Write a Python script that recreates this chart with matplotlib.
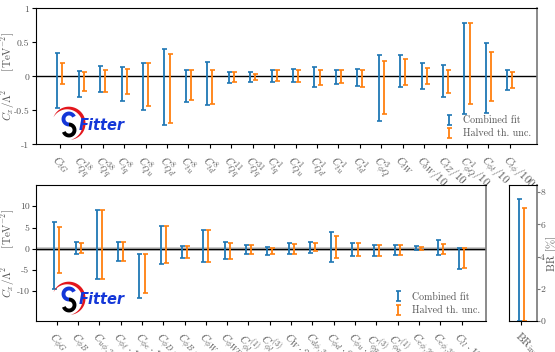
import numpy as np
import matplotlib
matplotlib.use('Agg')
import matplotlib.pyplot as plt

plt.rcParams['font.family'] = ['cmr10', 'DejaVu Serif']
plt.rcParams['mathtext.fontset'] = 'cm'
plt.rcParams['axes.unicode_minus'] = False
plt.rcParams['axes.formatter.use_mathtext'] = True

# ---- data ----
top_labels = [r"$C_{tG}$", r"$C_{Qq}^{18}$", r"$C_{Qq}^{38}$", r"$C_{tq}^{8}$", r"$C_{Qu}^{8}$",
              r"$C_{Qd}^{8}$", r"$C_{tu}^{8}$", r"$C_{td}^{8}$", r"$C_{Qq}^{11}$", r"$C_{Qq}^{31}$",
              r"$C_{tq}^{1}$", r"$C_{Qu}^{1}$", r"$C_{Qd}^{1}$", r"$C_{tu}^{1}$", r"$C_{td}^{1}$",
              r"$C_{\phi Q}^{3}$", r"$C_{tW}$", r"$C_{bW}/10$", r"$C_{tZ}/10$", r"$C_{\phi Q}^{1}/10$",
              r"$C_{\phi t}/10$", r"$C_{t\phi}/100$"]
top_comb_hi = [0.35, 0.08, 0.15, 0.14, 0.20, 0.40, 0.10, 0.21, 0.06, 0.06, 0.09,
               0.11, 0.14, 0.09, 0.11, 0.32, 0.31, 0.19, 0.17, 0.79, 0.49, 0.10]
top_comb_lo = [-0.46, -0.30, -0.23, -0.36, -0.50, -0.71, -0.38, -0.42, -0.10, -0.08, -0.08,
               -0.08, -0.15, -0.12, -0.14, -0.66, -0.16, -0.18, -0.30, -0.56, -0.54, -0.20]
top_half_hi = [0.19, 0.07, 0.09, 0.11, 0.19, 0.33, 0.10, 0.10, 0.06, 0.04, 0.10,
               0.10, 0.10, 0.09, 0.10, 0.23, 0.26, 0.12, 0.09, 0.79, 0.36, 0.07]
top_half_lo = [-0.12, -0.21, -0.23, -0.26, -0.43, -0.68, -0.35, -0.40, -0.08, -0.06, -0.07,
               -0.09, -0.13, -0.10, -0.15, -0.56, -0.13, -0.12, -0.24, -0.41, -0.37, -0.17]

bot_labels = [r"$C_{\phi G}$", r"$C_{\phi B}$", r"$C_{u\phi,22}$", r"$C_{\phi\ell}\cdot 10$",
              r"$C_{\phi e}\cdot 10$", r"$C_{\phi D}\cdot 10$", r"$C_{\phi B}\cdot 10$",
              r"$C_{\phi W}\cdot 10$", r"$C_{\phi WB}\cdot 10$", r"$C_{\phi l}^{(1)}\cdot 10$",
              r"$C_{\phi l}^{(3)}\cdot 10$", r"$C_{W}\cdot 20$", r"$C_{d\phi,33}\cdot 20$",
              r"$C_{\phi d}\cdot 20$", r"$C_{\phi u}\cdot 20$", r"$C_{\phi q}^{(3)}\cdot 20$",
              r"$C_{\phi q}^{(1)}\cdot 20$", r"$C_{e\phi,22}\cdot 100$", r"$C_{e\phi,33}\cdot 100$",
              r"$C_{ll}\cdot 100$"]
bot_comb_hi = [6.3, 1.7, 9.1, 1.7, -1.3, 5.4, 0.6, 4.3, 1.6, 1.0,
               0.4, 1.25, 1.5, 3.85, 1.35, 0.8, 1.0, 0.55, 1.95, 0.1]
bot_comb_lo = [-9.4, -1.2, -7.1, -2.8, -11.5, -3.5, -2.2, -3.1, -2.3, -1.25,
               -1.5, -1.25, -1.1, -3.0, -1.7, -1.6, -1.5, -0.25, -1.4, -4.7]
bot_half_hi = [5.1, 1.25, 9.1, 1.5, -1.3, 5.4, 0.6, 4.3, 1.3, 1.0,
               0.24, 1.2, 1.25, 3.05, 1.25, 0.8, 1.0, 0.5, 1.2, 0.1]
bot_half_lo = [-5.6, -0.95, -7.1, -2.8, -10.3, -3.4, -2.2, -3.05, -2.3, -1.25,
               -1.3, -1.25, -0.6, -2.2, -1.7, -1.6, -1.5, -0.25, -1.2, -4.6]

br_label = [r"$\mathrm{BR}_{\mathrm{inv}}$"]
br_comb = [7.6]
br_half = [7.0]

BLUE = '#1f77b4'
ORANGE = '#ff7f0e'
GREY = '#555555'
W, H = 555, 352


def bars(ax, x, lo, hi, color, label):
    lo = np.asarray(lo, float)
    hi = np.asarray(hi, float)
    mid = (lo + hi) / 2
    return ax.errorbar(x, mid, yerr=[mid - lo, hi - mid], fmt='none', ecolor=color,
                       elinewidth=1.3, capsize=1.8, capthick=1.2, label=label)


def style(ax, labels):
    ax.set_xticks(np.arange(len(labels)))
    ax.set_xticklabels(labels, rotation=-45, ha='left', va='top', rotation_mode='anchor',
                       fontsize=8, color=GREY)
    ax.tick_params(axis='x', length=3, pad=3)
    ax.tick_params(axis='y', length=3, labelsize=7, labelcolor=GREY, pad=1.5)
    ax.spines['right'].set_color('#777777')
    ax.spines['right'].set_linewidth(1.2)


def put_ylabel(ax, text, x, size=8):
    ax.set_ylabel(text, fontsize=size, color=GREY)
    ax.yaxis.label.set_verticalalignment('center')
    ax.yaxis.set_label_coords(x, 0.5)


def draw_logo(fig, x0, y0):
    lax = fig.add_axes([x0 / W, 1 - (y0 + 38) / H, 70 / W, 38 / H])
    lax.set_xlim(0, 70)
    lax.set_ylim(0, 38)
    lax.axis('off')
    s = np.linspace(0, 1, 80)
    ang = np.deg2rad(155 - s * 235)
    cx, cy, r = 18, 18, 16
    th = 3.4 * np.sin(np.pi * s)
    outer = np.c_[cx + (r + th / 2) * np.cos(ang), cy + (r + th / 2) * np.sin(ang)]
    inner = np.c_[cx + (r - th / 2) * np.cos(ang), cy + (r - th / 2) * np.sin(ang)][::-1]
    poly = np.r_[outer, inner]
    lax.fill(poly[:, 0], poly[:, 1], color='#e3161c', lw=0)
    a1 = np.deg2rad(np.linspace(25, 270, 50))
    lax.plot(19 + 5.5 * np.cos(a1), 23 + 5.5 * np.sin(a1), color='#1437d8', lw=2.8,
             solid_capstyle='butt')
    a2 = np.deg2rad(np.linspace(90, -160, 50))
    lax.plot(19 + 5.5 * np.cos(a2), 12 + 5.5 * np.sin(a2), color='black', lw=2.8,
             solid_capstyle='butt')
    lax.text(29, 17, "Fitter", color='#1437d8', fontsize=10.5, fontweight='bold',
             fontstyle='italic', family='DejaVu Sans', va='center', ha='left')


fig = plt.figure(figsize=(W / 100, H / 100), dpi=100)
ylab = r"$C_x/\Lambda^2$     $[\mathrm{TeV}^{-2}]$"

# ---- top panel ----
ax1 = fig.add_axes([35.7 / W, 1 - 144.3 / H, 501 / W, 136 / H])
xt = np.arange(len(top_labels))
ax1.axhline(0, color='black', lw=1.0, zorder=1)
bars(ax1, xt - 0.12, top_comb_lo, top_comb_hi, BLUE, "Combined fit")
bars(ax1, xt + 0.12, top_half_lo, top_half_hi, ORANGE, "Halved th. unc.")
ax1.set_xlim(-1.13, 22.25)
ax1.set_ylim(-1, 1)
ax1.set_yticks([-1, -0.5, 0, 0.5, 1])
ax1.set_yticklabels(["-1", "-0.5", "0", "0.5", "1"])
style(ax1, top_labels)
put_ylabel(ax1, ylab, -0.055)
ax1.legend(loc='lower right', frameon=False, fontsize=7.2, handlelength=1.2,
           borderaxespad=0.2, labelspacing=0.35, labelcolor=GREY)

# ---- bottom panel ----
ax2 = fig.add_axes([35.7 / W, 1 - 321 / H, 450.3 / W, 136 / H])
xb = np.arange(len(bot_labels))
ax2.axhline(0, color='#999999', lw=2.6, alpha=0.6, zorder=1)
ax2.axhline(0, color='black', lw=1.0, zorder=1)
bars(ax2, xb - 0.12, bot_comb_lo, bot_comb_hi, BLUE, "Combined fit")
bars(ax2, xb + 0.12, bot_half_lo, bot_half_hi, ORANGE, "Halved th. unc.")
ax2.set_xlim(-0.99, 20.15)
ax2.set_ylim(-17, 15)
ax2.set_yticks([-10, -5, 0, 5, 10])
ax2.set_yticklabels(["-10", "-5", "0", "5", "10"])
style(ax2, bot_labels)
put_ylabel(ax2, ylab, -0.061)
ax2.legend(loc='lower right', frameon=False, fontsize=7.2, handlelength=1.2,
           borderaxespad=0.2, labelspacing=0.35, labelcolor=GREY)

# ---- BR panel ----
ax3 = fig.add_axes([509 / W, 1 - 321 / H, 27.7 / W, 136 / H])
xr = np.arange(len(br_label))
bars(ax3, xr - 0.12, np.zeros(len(br_comb)), br_comb, BLUE, None)
bars(ax3, xr + 0.12, np.zeros(len(br_half)), br_half, ORANGE, None)
ax3.set_xlim(-0.6, 0.73)
ax3.set_ylim(0, 8.45)
ax3.yaxis.tick_right()
ax3.yaxis.set_label_position('right')
ax3.set_yticks([0, 2, 4, 6, 8])
ax3.set_yticklabels(["0", "2", "4", "6", "8"])
style(ax3, br_label)
ax3.tick_params(axis='y', colors='#777777', labelcolor=GREY, labelsize=7, length=2, pad=0.5)
put_ylabel(ax3, r"BR [%]", 1.56, size=8)

draw_logo(fig, 50, 104)
draw_logo(fig, 50, 279)

fig.savefig('out.png', dpi=100)
